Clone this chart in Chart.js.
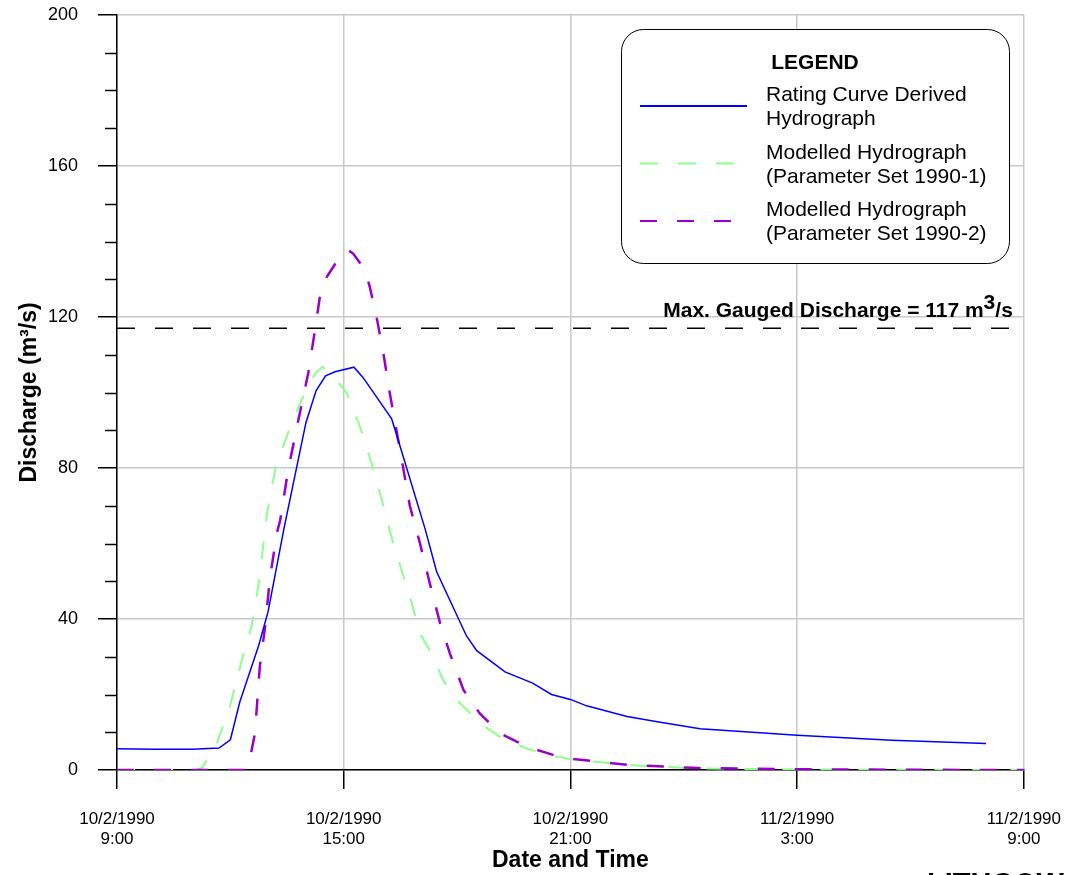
<!DOCTYPE html>
<html>
<head>
<meta charset="utf-8">
<script src="https://cdn.jsdelivr.net/npm/chart.js@4/dist/chart.umd.min.js"></script>
<style>
  html, body { margin: 0; padding: 0; background: #fff; }
  #wrap { width: 1081px; height: 875px; }
</style>
</head>
<body>
<div id="wrap"><canvas id="hydro-chart" width="1081" height="875"></canvas></div>
<script>
// time axis is hours after 10/2/1990 9:00
const xTickLabels = [
    ['10/2/1990', '9:00'], ['10/2/1990', '15:00'], ['10/2/1990', '21:00'],
    ['11/2/1990', '3:00'], ['11/2/1990', '9:00']
];

const ratingHours = [0, 1, 2, 2.7, 3.0, 3.25, 3.75, 4.0, 4.42, 5.0, 5.27, 5.52, 5.77, 6.27, 6.51,
    7.27, 7.53, 8.15, 8.46, 9.25, 9.52, 10.27, 11.0, 11.5, 12.0, 12.43, 13.0, 13.5, 14.3, 15.43,
    18.0, 20.5, 23.0];
const ratingFlow = [5.6, 5.5, 5.5, 5.8, 8.0, 18, 33, 42, 64, 92, 100.5, 104.4, 105.5, 106.7, 104,
    93, 84.5, 64, 52.5, 35.5, 31.6, 26, 23, 20, 18.7, 17, 15.5, 14.2, 12.8, 10.9,
    9.2, 7.9, 7.0];

const set1Hours = [0, 2.1, 2.26, 2.64, 2.99, 3.3, 3.56, 3.7, 3.83, 3.97, 4.2, 4.49, 4.88, 5.24, 5.44,
    5.88, 6.08, 6.43, 6.74, 7.05, 7.31, 7.75, 8.02, 8.37, 8.63, 9.08, 9.6, 10.14, 10.84, 11.37,
    12.0, 13.5, 15.4, 18.0, 21.0, 24.0];
const set1Flow = [0, 0, 0.7, 7, 16.8, 29, 38, 46, 56, 68, 80.4, 88.3, 98, 105, 106.8,
    102.4, 99.8, 91, 81.2, 70, 60, 46, 36.2, 30, 23.8, 17.7, 12.4, 8.8, 5.7, 4.0,
    2.9, 1.3, 0.4, 0.15, 0.05, 0];

const set2Hours = [0, 3.4, 3.47, 3.65, 3.78, 3.92, 4.05, 4.23, 4.32, 4.53, 4.8, 5.06, 5.24, 5.37, 5.55,
    5.9, 6.12, 6.25, 6.56, 6.69, 6.87, 7.05, 7.22, 7.49, 7.75, 8.02, 8.28, 8.55, 8.81, 9.17,
    9.6, 10.14, 10.84, 11.54, 12.0, 13.5, 15.4, 18.0, 21.0, 24.0];
const set2Flow = [0, 0, 0.5, 9.7, 27.4, 38, 51, 62.7, 66.2, 79.5, 92.7, 105, 116.6, 125.4, 130.6,
    136, 137.7, 136.8, 132.5, 128, 120, 110.4, 99.8, 84.8, 70, 60, 49.4, 38.9, 30.9, 21.2,
    15, 9.7, 6.2, 4.0, 3.0, 1.4, 0.5, 0.2, 0.05, 0];

const maxGauged = 117;

const legendLabels = [
    ['Rating Curve Derived', 'Hydrograph'],
    ['Modelled Hydrograph', '(Parameter Set 1990-1)'],
    ['Modelled Hydrograph', '(Parameter Set 1990-2)']
];

const FONT = "'Liberation Sans', Arial, sans-serif";

function toPoints(hours, flows) {
    return hours.map((h, i) => ({ x: h, y: flows[i] }));
}

// draws legend box, minor ticks and the gauged label
const extras = {
    id: 'extras',
    afterDraw(chart) {
        const { ctx, scales: { x, y } } = chart;
        ctx.save();

        // minor ticks every 10
        ctx.strokeStyle = '#000';
        ctx.lineWidth = 1.5;
        for (let v = 10; v < 200; v += 10) {
            if (v % 40 === 0) continue;
            const py = Math.round(y.getPixelForValue(v)) + 0.5;
            ctx.beginPath();
            ctx.moveTo(x.left - 12, py);
            ctx.lineTo(x.left, py);
            ctx.stroke();
        }

        // max gauged label with superscript
        ctx.fillStyle = '#000';
        ctx.font = 'bold 21px ' + FONT;
        ctx.textBaseline = 'alphabetic';
        ctx.textAlign = 'left';
        const p1 = 'Max. Gauged Discharge = 117 m', sup = '3', p2 = '/s';
        const w1 = ctx.measureText(p1).width, ws = ctx.measureText(sup).width, w2 = ctx.measureText(p2).width;
        let lx = x.right - 11 - (w1 + ws + w2);
        const ly = y.getPixelForValue(maxGauged) - 11;
        ctx.fillText(p1, lx, ly);
        ctx.fillText(sup, lx + w1, ly - 8);
        ctx.fillText(p2, lx + w1 + ws, ly);

        // legend box
        ctx.beginPath();
        ctx.roundRect(621.5, 29.5, 388, 234, 22);
        ctx.fillStyle = '#fff';
        ctx.fill();
        ctx.strokeStyle = '#000';
        ctx.lineWidth = 1;
        ctx.stroke();

        ctx.fillStyle = '#000';
        ctx.font = 'bold 21px ' + FONT;
        ctx.textAlign = 'center';
        ctx.fillText('LEGEND', 815, 69);

        ctx.textAlign = 'left';
        ctx.font = '21px ' + FONT;
        const ds = chart.data.datasets;
        legendLabels.forEach((lines, i) => {
            const base = 101 + i * 57.5;
            ctx.fillStyle = '#000';
            lines.forEach((t, j) => ctx.fillText(t, 766, base + j * 24));
            ctx.beginPath();
            ctx.strokeStyle = ds[i].borderColor;
            ctx.lineWidth = 2;
            ctx.setLineDash(ds[i].borderDash || []);
            ctx.moveTo(640, base + 5);
            ctx.lineTo(747, base + 5);
            ctx.stroke();
            ctx.setLineDash([]);
        });

        // cut-off caption at the bottom edge
        ctx.font = 'bold 29px ' + FONT;
        ctx.fillStyle = '#000';
        ctx.fillText('LITHGOW', 927, 893);

        ctx.restore();
    }
};

function setupChart() {
    const ctx = document.getElementById('hydro-chart').getContext('2d');
    const config = {
        type: 'line',
        data: {
            datasets: [{
                label: legendLabels[0].join(' '),
                data: toPoints(ratingHours, ratingFlow),
                borderColor: '#0000ff',
                borderWidth: 1.5,
                order: 0
            }, {
                label: legendLabels[1].join(' '),
                data: toPoints(set1Hours, set1Flow),
                borderColor: '#8cff8c',
                borderWidth: 2,
                borderDash: [18, 20],
                order: 2
            }, {
                label: legendLabels[2].join(' '),
                data: toPoints(set2Hours, set2Flow),
                borderColor: '#9900cc',
                borderWidth: 2.5,
                borderDash: [17, 20],
                order: 1
            }, {
                label: 'Max. Gauged Discharge',
                data: [{ x: 0, y: maxGauged }, { x: 24, y: maxGauged }],
                borderColor: '#000',
                borderWidth: 1.5,
                borderDash: [18, 20],
                order: 3
            }]
        },
        options: {
            responsive: false,
            animation: false,
            layout: { padding: { top: 15, right: 57, left: 0, bottom: 0 } },
            elements: { point: { radius: 0 }, line: { tension: 0 } },
            plugins: { legend: { display: false }, tooltip: { enabled: false } },
            scales: {
                x: {
                    type: 'linear',
                    min: 0,
                    max: 24,
                    afterFit: (scale) => { scale.height = 105; },
                    ticks: {
                        stepSize: 6,
                        padding: 20,
                        color: '#000',
                        maxRotation: 0,
                        font: { family: FONT, size: 17 },
                        callback: (v) => xTickLabels[Math.round(v / 6)]
                    },
                    grid: { color: '#c8c8c8', lineWidth: 1.5, tickColor: '#000', tickLength: 19, tickWidth: 1.5 },
                    border: { color: '#000', width: 1.5 },
                    title: {
                        display: true,
                        text: 'Date and Time',
                        color: '#000',
                        font: { family: FONT, size: 23, weight: 'bold' },
                        padding: { top: 0, bottom: 1 }
                    }
                },
                y: {
                    min: 0,
                    max: 200,
                    afterFit: (scale) => {
                        scale.width = 117;
                        scale.paddingTop = 0;
                        scale.paddingBottom = 0;
                    },
                    ticks: {
                        stepSize: 40,
                        padding: 20,
                        color: '#000',
                        font: { family: FONT, size: 18 }
                    },
                    grid: { color: '#c8c8c8', lineWidth: 1.5, tickColor: '#000', tickLength: 19, tickWidth: 1.5 },
                    border: { color: '#000', width: 1.5 },
                    title: {
                        display: true,
                        text: 'Discharge (m³/s)',
                        color: '#000',
                        font: { family: FONT, size: 23, weight: 'bold' },
                        padding: { top: 16, bottom: 0 }
                    }
                }
            }
        },
        plugins: [extras]
    };
    return new Chart(ctx, config);
}

setupChart();
</script>
</body>
</html>
